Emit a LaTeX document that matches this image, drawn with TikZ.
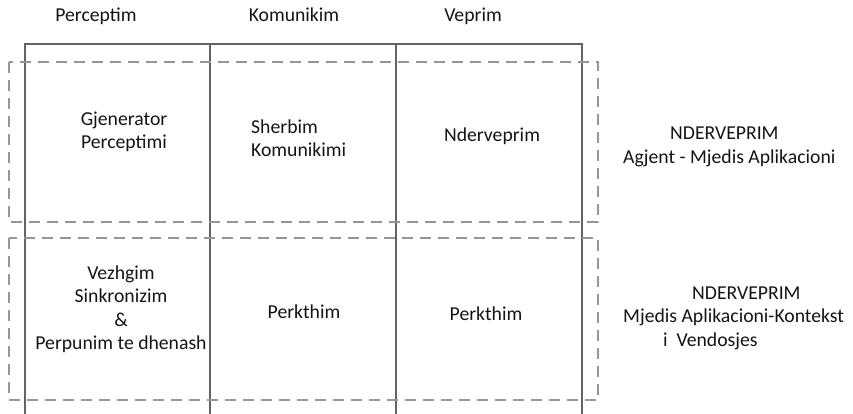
\documentclass[tikz,border=0pt]{standalone}
\usepackage{fontspec}
\setmainfont{Carlito}
\definecolor{gridline}{RGB}{100,100,100}
\definecolor{bandline}{RGB}{150,150,150}
\definecolor{ink}{RGB}{20,20,20}
\begin{document}
\begin{tikzpicture}[x=1pt,y=-1pt,
  solidrule/.style={draw=gridline,line width=1.6pt},
  bandrule/.style={draw=bandline,line width=1.8pt,dash pattern=on 11pt off 7pt},
  lbl/.style={inner sep=0pt,text=ink,font=\fontsize{19.7}{23.5}\selectfont},
  cellc/.style={lbl,align=center},
  celll/.style={lbl,align=left,anchor=west}]
\useasboundingbox (0,0) rectangle (853,414);

% column grid, open at the bottom
\draw[solidrule] (25,414) -- (25,44) -- (582,44) -- (582,414);
\draw[solidrule] (210,44) -- (210,414);
\draw[solidrule] (396,44) -- (396,414);

% dashed interaction bands
\draw[bandrule] (9,62) rectangle (598,222);
\draw[bandrule] (9,238) rectangle (598,400);

% column headings
\node[lbl,anchor=base] (hPer) at (96,22) {Perceptim};
\node[lbl,anchor=base] (hKom) at (294,22) {Komunikim};
\node[lbl,anchor=base] (hVep) at (473,22) {Veprim};

% upper band
\node[cellc] (gjen) at (124,132.5) {\strut Gjenerator\\Perceptimi\strut};
\node[celll] (sher) at (251,140.3) {\strut Sherbim\\Komunikimi\strut};
\node[lbl,anchor=base] (nder) at (492,142) {Nderveprim};
\node[celll] (band1) at (623,146.8) {\strut\hspace*{47pt}NDERVEPRIM\\Agjent - Mjedis Aplikacioni\strut};

% lower band
\node[cellc] (vezh) at (121,309.8) {\strut Vezhgim\\Sinkronizim\\\&\\Perpunim te dhenash\strut};
\node[lbl,anchor=base] (perk1) at (304,318) {Perkthim};
\node[lbl,anchor=base] (perk2) at (486,320) {Perkthim};
\node[celll] (band2) at (623,317.8) {\strut\hspace*{69pt}NDERVEPRIM\\Mjedis Aplikacioni-Kontekst\\\hspace*{40pt}i\ \ Vendosjes\strut};
\end{tikzpicture}
\end{document}
